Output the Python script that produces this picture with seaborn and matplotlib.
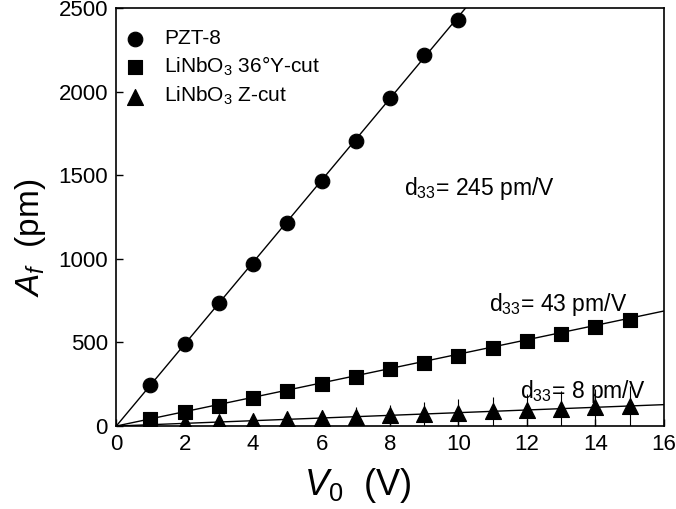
import numpy as np
import pandas as pd
import seaborn as sns
import matplotlib.pyplot as plt

sns.set_style("ticks")
plt.rcParams['font.family'] = ['Liberation Sans', 'DejaVu Sans']
plt.rcParams['mathtext.fontset'] = 'custom'
plt.rcParams['mathtext.rm'] = 'Liberation Sans'
plt.rcParams['mathtext.it'] = 'Liberation Sans:italic'
plt.rcParams['text.color'] = 'black'
plt.rcParams['axes.labelcolor'] = 'black'
plt.rcParams['xtick.color'] = 'black'
plt.rcParams['ytick.color'] = 'black'

# measured amplitude vs drive voltage
v_pzt = [1, 2, 3, 4, 5, 6, 7, 8, 9, 10]
a_pzt = [245, 490, 735, 970, 1215, 1465, 1705, 1960, 2220, 2430]

v_y = list(range(1, 16))
a_y = [40, 85, 120, 165, 210, 250, 295, 340, 380, 420, 465, 510, 550, 590, 635]

v_z = list(range(1, 16))
a_z = [8, 16, 24, 32, 40, 48, 56, 64, 72, 80, 88, 96, 104, 112, 120]
err_z = [8, 16, 24, 32, 40, 48, 56, 64, 72, 80, 88, 96, 104, 112, 120]

# linear fits through origin (pm/V)
d33 = {"PZT-8": 245, "Y": 43, "Z": 8}

fig, ax = plt.subplots(figsize=(6.76, 5.09), dpi=100)
fig.subplots_adjust(left=0.172, right=0.982, bottom=0.163, top=0.984)

# fit lines
for slope in d33.values():
    fit = pd.DataFrame({"x": [0, 16], "y": [0, slope * 16]})
    sns.lineplot(data=fit, x="x", y="y", color="black", lw=1, ax=ax)

ax.errorbar(v_z, a_z, yerr=err_z, fmt="none", ecolor="black", elinewidth=0.8,
            capsize=0, linestyle="--")

df_pzt = pd.DataFrame({"V": v_pzt, "A": a_pzt})
df_y = pd.DataFrame({"V": v_y, "A": a_y})
df_z = pd.DataFrame({"V": v_z, "A": a_z})

sns.scatterplot(data=df_pzt, x="V", y="A", marker="o", s=110, color="black",
                edgecolor="black", label="PZT-8", ax=ax, zorder=5)
sns.scatterplot(data=df_y, x="V", y="A", marker="s", s=100, color="black",
                edgecolor="black", label="LiNbO$_3$ 36°Y-cut", ax=ax, zorder=5)
sns.scatterplot(data=df_z, x="V", y="A", marker="^", s=130, color="black",
                edgecolor="black", label="LiNbO$_3$ Z-cut", ax=ax, zorder=5)

ax.set_xlim(0, 16)
ax.set_ylim(0, 2500)
ax.set_xticks(np.arange(0, 17, 2))
ax.set_yticks(np.arange(0, 2501, 500))
ax.tick_params(direction="in", length=5, labelsize=16, width=1, pad=6)
for sp in ax.spines.values():
    sp.set_visible(True)
    sp.set_linewidth(1.2)
    sp.set_color("black")

ax.set_xlabel("$V_0$  (V)", fontsize=26)
ax.set_ylabel("$A_f$  (pm)", fontsize=24)
ax.xaxis.set_label_coords(0.44, -0.095)
ax.yaxis.set_label_coords(-0.125, 0.45)

ax.text(8.4, 1380, "d$_{33}$= 245 pm/V", fontsize=16.5)
ax.text(10.9, 690, "d$_{33}$= 43 pm/V", fontsize=16.5)
ax.text(11.8, 170, "d$_{33}$= 8 pm/V", fontsize=16.5)

leg = ax.legend(loc="upper left", frameon=False, fontsize=15, handletextpad=0.4,
                bbox_to_anchor=(-0.038, 0.995), labelspacing=0.33, markerscale=1.0)

fig.savefig("out.png", dpi=100)
